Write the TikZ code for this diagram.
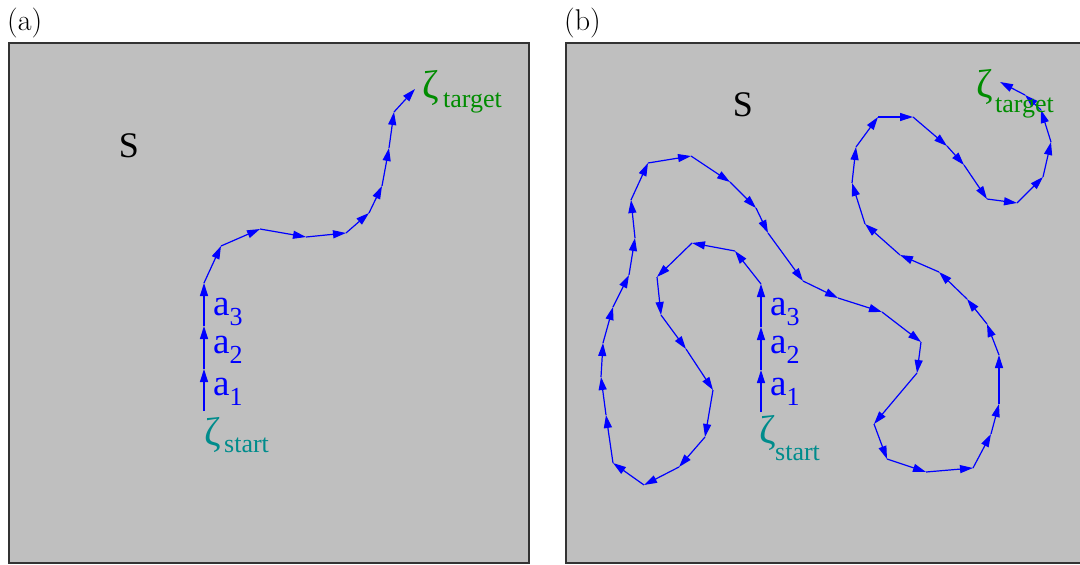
\documentclass[tikz,border=0pt]{standalone}
\usepackage{fontspec}
\setmainfont{Liberation Serif}
\newfontfamily\lmfont{Latin Modern Roman}
\usetikzlibrary{arrows.meta}
\definecolor{panelgray}{RGB}{191,191,191}
\definecolor{pathblue}{RGB}{0,0,255}
\definecolor{startcol}{RGB}{0,140,140}
\definecolor{targetcol}{RGB}{0,140,0}
\newcommand{\mysub}[2][10pt]{\raisebox{-#1}{\fontsize{26}{26}\selectfont #2}}
\newcommand{\myzeta}[1]{\makebox[#1][l]{\fontsize{40}{40}\selectfont ζ}}
\tikzset{
  panel/.style={fill=panelgray,draw=black!80,line width=1.3pt},
  seg/.style={pathblue,line width=1.2pt,-{Triangle[length=13pt,width=8pt]}},
  vlab/.style={anchor=base west,inner sep=0pt,text=pathblue,font=\rmfamily\fontsize{37}{37}\selectfont},
  zlab/.style={anchor=base west,inner sep=0pt,font=\rmfamily\fontsize{36}{36}\selectfont},
  slab/.style={anchor=base,inner sep=0pt,font=\rmfamily\fontsize{36}{36}\selectfont},
  plab/.style={anchor=base west,inner sep=0pt,font=\lmfont\fontsize{30}{30}\selectfont}
}
\begin{document}
\begin{tikzpicture}[x=1pt,y=-1pt]
\useasboundingbox (0,0) rectangle (1080,565);
\fill[white] (0,0) rectangle (1080,565);
% panels
\node[plab] (la) at (7,30) {(a)};
\node[plab] (lb) at (564,30) {(b)};
\draw[panel] (9,43) rectangle (529,563);
\draw[panel] (566,43) rectangle (1085,563);
\node[slab] (sa) at (129,157) {S};
\node[slab] (sb) at (743,116) {S};
% path (a)
\foreach \x/\y [count=\i] in {204/411,204/369,204/326,204/283,221/246,260/229,306/237,346/233,369/213,382/186,389/148,394/112,415/89}
  {\coordinate (pa\i) at (\x,\y);}
\foreach \i [evaluate=\i as \j using int(\i+1)] in {1,...,12}
  {\draw[seg] (pa\i) -- (pa\j);}
% path (b)
\foreach \x/\y [count=\i] in {761/412,761/370,761/327,761/284,735/251,692/243,657/277,661/315,686/349,713/390,705/437,679/467,644/485,613/463,606/415,601/377,603/343,613/307,629/275,635/238,631/200,648/163,691/156,730/182,756/208,768/233,803/281,838/298,882/312,921/342,917/373,874/424,887/459,926/472,973/468,991/434,999/404,999/355,987/324,967/299,939/272,900/255,865/224,852/183,856/147,878/117,913/117,947/146,964/165,987/199,1017/203,1043/177,1051/142,1041/110,1025/95,1000/82}
  {\coordinate (pb\i) at (\x,\y);}
\foreach \i [evaluate=\i as \j using int(\i+1)] in {1,...,55}
  {\draw[seg] (pb\i) -- (pb\j);}
% labels (a)
\node[vlab] (a1a) at (213,395) {a\mysub{1}};
\node[vlab] (a2a) at (213,353) {a\mysub{2}};
\node[vlab] (a3a) at (213,315) {a\mysub{3}};
\node[zlab,text=startcol] (zsa) at (204,445) {\myzeta{20pt}\mysub[7pt]{start}};
\node[zlab,text=targetcol] (zta) at (422,98) {\myzeta{21pt}\mysub[9pt]{target}};
% labels (b)
\node[vlab] (a1b) at (770,395) {a\mysub{1}};
\node[vlab] (a2b) at (770,353) {a\mysub{2}};
\node[vlab] (a3b) at (770,315) {a\mysub{3}};
\node[zlab,text=startcol] (zsb) at (759,443) {\myzeta{16pt}\mysub[17pt]{start}};
\node[zlab,text=targetcol] (ztb) at (976,97) {\myzeta{19pt}\mysub[15pt]{target}};
\end{tikzpicture}
\end{document}
